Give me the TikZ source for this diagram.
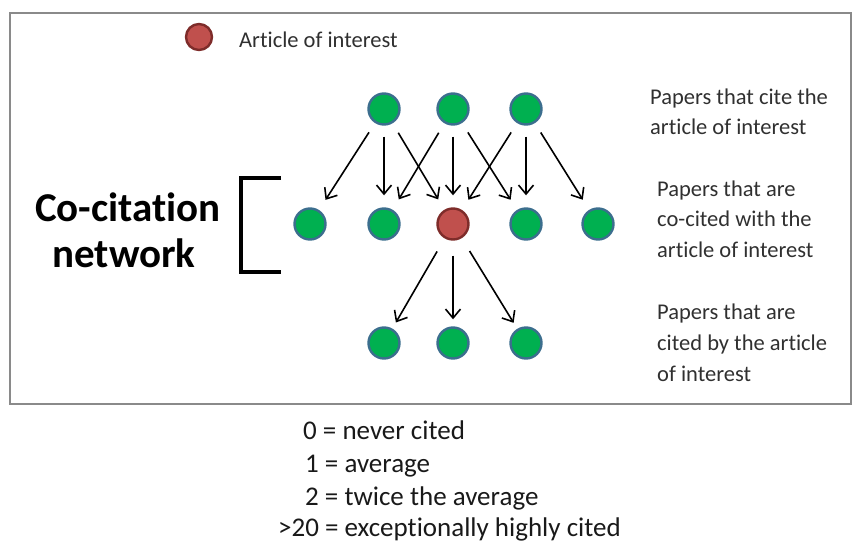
\documentclass[tikz,border=0pt]{standalone}
\usepackage{fontspec}
\setmainfont{Carlito}[Ligatures={NoCommon}]
\usetikzlibrary{arrows.meta}
\definecolor{gfill}{HTML}{00B050}
\definecolor{gedge}{HTML}{3C6E8E}
\definecolor{rfill}{HTML}{C0504D}
\definecolor{redge}{HTML}{7E2C2A}
\definecolor{boxgray}{HTML}{8A8A8A}
\definecolor{txt}{HTML}{303030}
\tikzset{
  paper/.style={circle, fill=gfill, draw=gedge, line width=2.4pt, minimum size=31pt, inner sep=0pt},
  article/.style={circle, fill=rfill, draw=redge, line width=2.4pt, minimum size=31pt, inner sep=0pt},
  cite/.style={line width=1.6pt, -{Straight Barb[length=9pt,width=15pt,line width=1.6pt]}, shorten <=11pt, shorten >=12pt},
  citedby/.style={line width=1.6pt, -{Straight Barb[length=9pt,width=15pt,line width=1.6pt]}, shorten <=15pt, shorten >=7pt},
  label/.style={anchor=base west, inner sep=0pt, text=txt, font=\fontsize{22.5}{27}\selectfont},
  legend/.style={anchor=base west, inner sep=0pt, text=black!90, font=\fontsize{27}{32}\selectfont},
  bigtxt/.style={inner sep=0pt, text=black, font=\bfseries\fontsize{41}{48}\selectfont}
}
\begin{document}
\begin{tikzpicture}[x=1pt,y=-1pt]
\useasboundingbox (0,0) rectangle (852,541);
\draw[boxgray, line width=1.3pt] (10,13) rectangle (851,404);

% legend
\node[article, minimum size=26pt] (leg) at (199,37) {};
\node[label] (legt) at (239,47) {Article of interest};

% top row
\node[paper] (t1) at (384,109) {};
\node[paper] (t2) at (453,109) {};
\node[paper] (t3) at (526,109) {};
% middle row
\node[paper] (m1) at (310,224) {};
\node[paper] (m2) at (384,224) {};
\node[article] (m3) at (453,224) {};
\node[paper] (m4) at (526,224) {};
\node[paper] (m5) at (598,224) {};
% bottom row
\node[paper] (b1) at (384,343) {};
\node[paper] (b2) at (453,343) {};
\node[paper] (b3) at (526,343) {};

\draw[cite] (t1) -- (m1);
\draw[cite] (t1) -- (m2);
\draw[cite] (t1) -- (m3);
\draw[cite] (t2) -- (m2);
\draw[cite] (t2) -- (m3);
\draw[cite] (t2) -- (m4);
\draw[cite] (t3) -- (m3);
\draw[cite] (t3) -- (m4);
\draw[cite] (t3) -- (m5);
\draw[citedby] (m3) -- (b1);
\draw[citedby] (m3) -- (b2);
\draw[citedby] (m3) -- (b3);

% bracket and title
\draw[line width=3.6pt] (281,178) -- (241,178) -- (241,272) -- (281,272);
\node[bigtxt] (co1) at (128,207) {Co-citation};
\node[bigtxt] (co2) at (124,253) {network};

% right labels
\node[label] (r1a) at (650,104) {Papers that cite the};
\node[label] (r1b) at (650,134) {article of interest};
\node[label] (r2a) at (657,196) {Papers that are};
\node[label] (r2b) at (657,226) {co-cited with the};
\node[label] (r2c) at (657,257) {article of interest};
\node[label] (r3a) at (657,319) {Papers that are};
\node[label] (r3b) at (657,350) {cited by the article};
\node[label] (r3c) at (657,381) {of interest};

% bottom legend
\node[legend] (l0) at (303,439) {0 = never cited};
\node[legend] (l1) at (305,472) {1 = average};
\node[legend] (l2) at (305,505) {2 = twice the average};
\node[legend] (l3) at (278,536) {>20 = exceptionally highly cited};
\end{tikzpicture}
\end{document}
